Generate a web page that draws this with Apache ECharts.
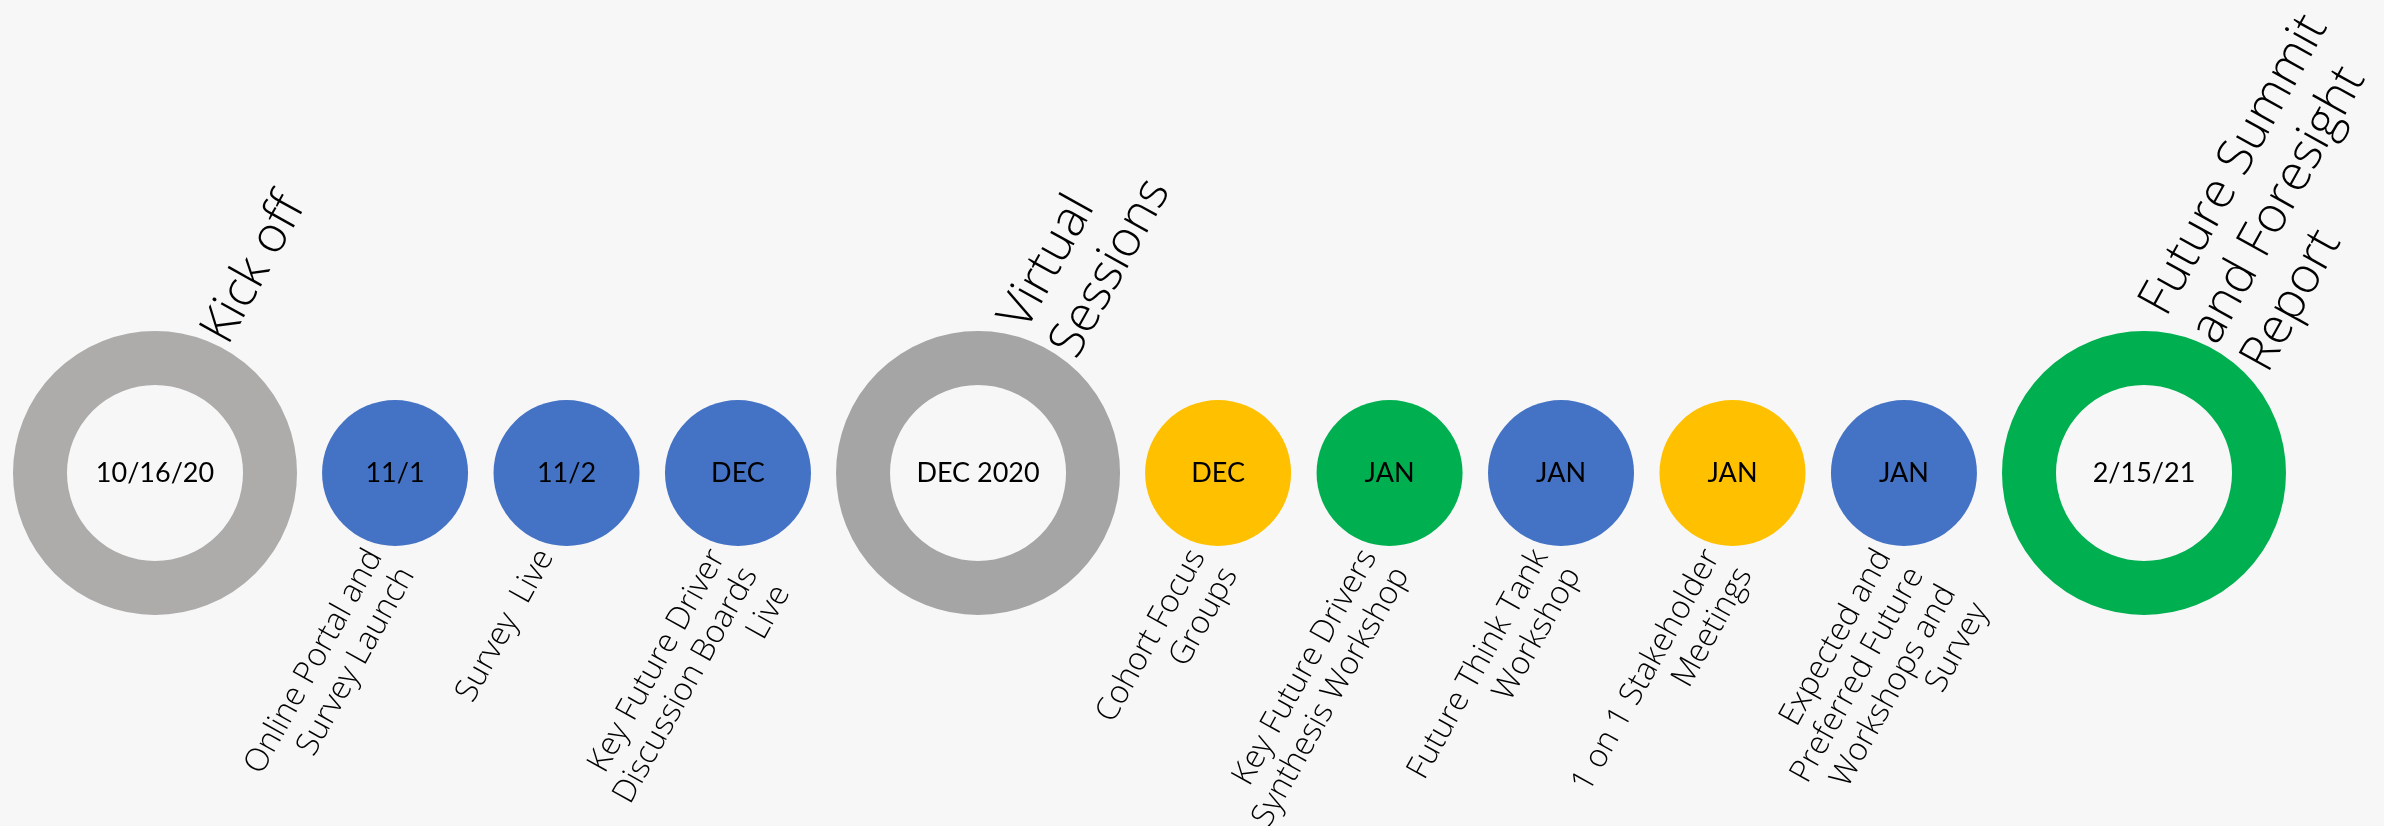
<!DOCTYPE html>
<html>
<head>
<meta charset="utf-8">
<title>Timeline</title>
<script src="https://cdn.jsdelivr.net/npm/echarts@6/dist/echarts.min.js"></script>
<style>
  html, body { margin: 0; padding: 0; background: #f7f7f7; }
</style>
</head>
<body>
<div id="myChart" style="width: 2384px;height:826px;"></div>
<script>
  // timeline slots (big milestones take a wider gap)
  const slots = [0, 1.4, 2.4, 3.4, 4.8, 6.2, 7.2, 8.2, 9.2, 10.2, 11.6];
  const dates = ['10/16/20', '11/1', '11/2', 'DEC', 'DEC 2020', 'DEC', 'JAN', 'JAN', 'JAN', 'JAN', '2/15/21'];
  const kinds = ['kickoff', 'online', 'online', 'online', 'virtual', 'group', 'workshop', 'online', 'group', 'online', 'summit'];
  const titles = ['Kick off', '', '', '', 'Virtual\nSessions', '', '', '', '', '', 'Future Summit\nand Foresight\nReport'];
  const notes = [
    '',
    'Online Portal and\nSurvey Launch',
    'Survey  Live',
    'Key Future Driver\nDiscussion Boards\nLive',
    '',
    'Cohort Focus\nGroups',
    'Key Future Drivers\nSynthesis Workshop',
    'Future Think Tank\nWorkshop',
    '1 on 1 Stakeholder\nMeetings',
    'Expected and\nPreferred Future\nWorkshops and\nSurvey',
    ''
  ];

  const colorOf = {
    kickoff: '#aeabab',
    virtual: '#a5a5a5',
    summit: '#00b050',
    online: '#4472c4',
    group: '#ffc000',
    workshop: '#00b050'
  };
  const isRing = k => k === 'kickoff' || k === 'virtual' || k === 'summit';
  const DATE_FONT = 'Lato, "Open Sans", sans-serif';
  const CAPTION_FONT = '"Open Sans", Lato, sans-serif';
  const ANGLE = 61 * Math.PI / 180;

  const ringData = [], dotData = [], textData = [];
  slots.forEach((x, i) => {
    const item = { value: [x, 0], name: dates[i] };
    if (isRing(kinds[i])) {
      item.itemStyle = { color: '#f7f7f7', borderColor: colorOf[kinds[i]], borderWidth: 54, opacity: 1 };
      ringData.push(item);
    } else {
      item.itemStyle = { color: colorOf[kinds[i]], opacity: 1 };
      dotData.push(item);
    }
    textData.push([x, 0, i]);
  });

  const myChart = echarts.init(document.getElementById('myChart'));

  const dateLabel = {
    show: true,
    position: 'inside',
    formatter: '{b}',
    color: '#000',
    fontSize: 27,
    fontFamily: DATE_FONT
  };

  let option = {
    backgroundColor: '#f7f7f7',
    animation: false,
    grid: { left: 155, right: 240, top: 273, bottom: 153 },
    xAxis: { type: 'value', min: 0, max: 11.6, show: false },
    yAxis: { type: 'value', min: -1, max: 1, show: false },
    series: [
      {
        name: 'milestones',
        type: 'scatter',
        symbol: 'circle',
        symbolSize: 230,
        data: ringData,
        label: dateLabel
      },
      {
        name: 'steps',
        type: 'scatter',
        symbol: 'circle',
        symbolSize: 146,
        data: dotData,
        label: dateLabel
      },
      {
        name: 'captions',
        type: 'custom',
        silent: true,
        data: textData,
        renderItem: function (params, api) {
          const i = api.value(2);
          const p = api.coord([api.value(0), api.value(1)]);
          const children = [];
          if (titles[i]) {
            children.push({
              type: 'text',
              x: p[0], y: p[1],
              rotation: ANGLE,
              style: {
                text: titles[i],
                x: 146, y: -12,
                align: 'left',
                verticalAlign: 'middle',
                fill: '#000',
                font: '300 50px ' + CAPTION_FONT,
                lineHeight: 58
              }
            });
          }
          if (notes[i]) {
            children.push({
              type: 'text',
              x: p[0], y: p[1],
              rotation: ANGLE,
              style: {
                text: notes[i],
                x: -79, y: 2,
                align: 'right',
                verticalAlign: 'top',
                fill: '#000',
                font: '300 32px ' + CAPTION_FONT,
                lineHeight: 37
              }
            });
          }
          return { type: 'group', children: children };
        }
      }
    ]
  };
  myChart.setOption(option);
</script>
</body>
</html>
